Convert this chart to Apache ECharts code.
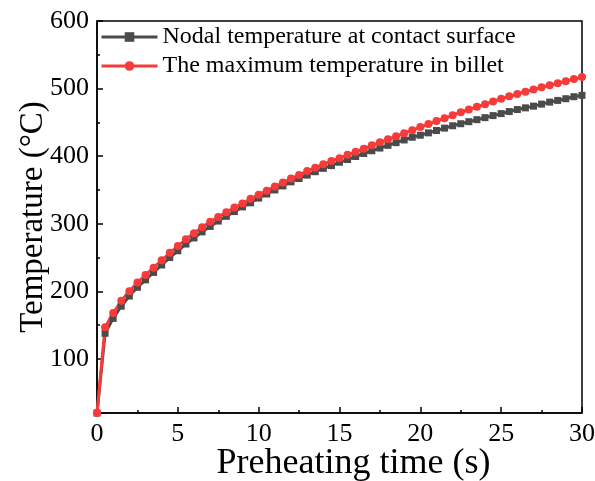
<!DOCTYPE html>
<html><head><meta charset="utf-8">
<script src="https://cdn.jsdelivr.net/npm/echarts@6/dist/echarts.min.js"></script>
<style>html,body{margin:0;padding:0;background:#fff}#c{width:595px;height:481px}</style>
</head><body><div id="c"></div>
<script>
var times = [0,0.5,1,1.5,2,2.5,3,3.5,4,4.5,5,5.5,6,6.5,7,7.5,8,8.5,9,9.5,10,10.5,11,11.5,12,12.5,13,13.5,14,14.5,15,15.5,16,16.5,17,17.5,18,18.5,19,19.5,20,20.5,21,21.5,22,22.5,23,23.5,24,24.5,25,25.5,26,26.5,27,27.5,28,28.5,29,29.5,30];
var nodalTemp = [20,138,160,178,193,206,217,228,239,250,260,270,279,288,296,304,311,318,325,331,338,344,350,356,362,367,372,377,382,386,391,395,399.5,404,408,412,416,420,424,428,431,434.5,438,441.5,445,448,451,454,457,460,463,466,469,471.5,474,477,480,482.5,485,488,490];
var maxTemp = [20,147,168,186,200,213,224,235,246,257,267,277,286,295,303,310,317,324,330,337,343,349,355,361,367,372,378,383,388,393,397,402,406.5,411,416,420.5,425,429.5,434,438.5,443,447.5,452,456,460.5,465,469,473,477,481,485,488.5,492,495.5,498.5,502,505,508,511,514,517];
var seriesNames = ['Nodal temperature at contact surface','The maximum temperature in billet'];
var xTitle = 'Preheating time (s)';
var yTitle = 'Temperature (°C)';

function pairs(v){ return times.map(function(t,i){ return [t, v[i]]; }); }
var font = 'Liberation Serif';
var chart = echarts.init(document.getElementById('c'));
chart.setOption({
  animation: false,
  grid: { left: 97, right: 13, top: 21, bottom: 68, containLabel: false, outerBoundsMode: 'none',
          show: true, borderColor: '#000', borderWidth: 1.5, backgroundColor: 'transparent' },
  legend: {
    left: 100, top: 25, orient: 'vertical', itemWidth: 56, itemHeight: 12, itemGap: 5, padding: 0,
    lineStyle: { width: 3 },
    textStyle: { fontFamily: font, fontSize: 24, lineHeight: 24, color: '#000' },
    data: seriesNames
  },
  xAxis: {
    type: 'value', min: 0, max: 30, interval: 5,
    name: xTitle, nameLocation: 'middle', nameGap: 33, nameMoveOverlap: false,
    nameTextStyle: { fontFamily: font, fontSize: 36, color: '#000', padding: [0, 0, 0, 28] },
    axisLine: { show: true, lineStyle: { color: '#000', width: 1.5 } },
    axisTick: { show: true, inside: true, length: 6, lineStyle: { color: '#000', width: 1.5 } },
    minorTick: { show: true, splitNumber: 2, length: 3, lineStyle: { color: '#000', width: 1.5 } },
    axisLabel: { fontFamily: font, fontSize: 26, color: '#000', margin: 8 },
    splitLine: { show: false }
  },
  yAxis: {
    type: 'value', min: 20, max: 600, splitNumber: 6,
    name: yTitle, nameLocation: 'middle', nameGap: 47, nameMoveOverlap: false,
    nameTextStyle: { fontFamily: font, fontSize: 33, color: '#000' },
    axisLine: { show: true, lineStyle: { color: '#000', width: 1.5 } },
    axisTick: { show: true, inside: true, length: 6, lineStyle: { color: '#000', width: 1.5 } },
    minorTick: { show: true, splitNumber: 2, length: 3, lineStyle: { color: '#000', width: 1.5 } },
    axisLabel: { fontFamily: font, fontSize: 26, color: '#000', margin: 8, showMinLabel: false },
    splitLine: { show: false }
  },
  series: [
    { name: seriesNames[0], type: 'line', data: pairs(nodalTemp), symbol: 'rect', symbolSize: 7,
      itemStyle: { color: '#4b4b4b' }, lineStyle: { color: '#4b4b4b', width: 3 } },
    { name: seriesNames[1], type: 'line', data: pairs(maxTemp), symbol: 'circle', symbolSize: 8,
      itemStyle: { color: '#f73a3a' }, lineStyle: { color: '#f73a3a', width: 3 } }
  ]
});
</script></body></html>
